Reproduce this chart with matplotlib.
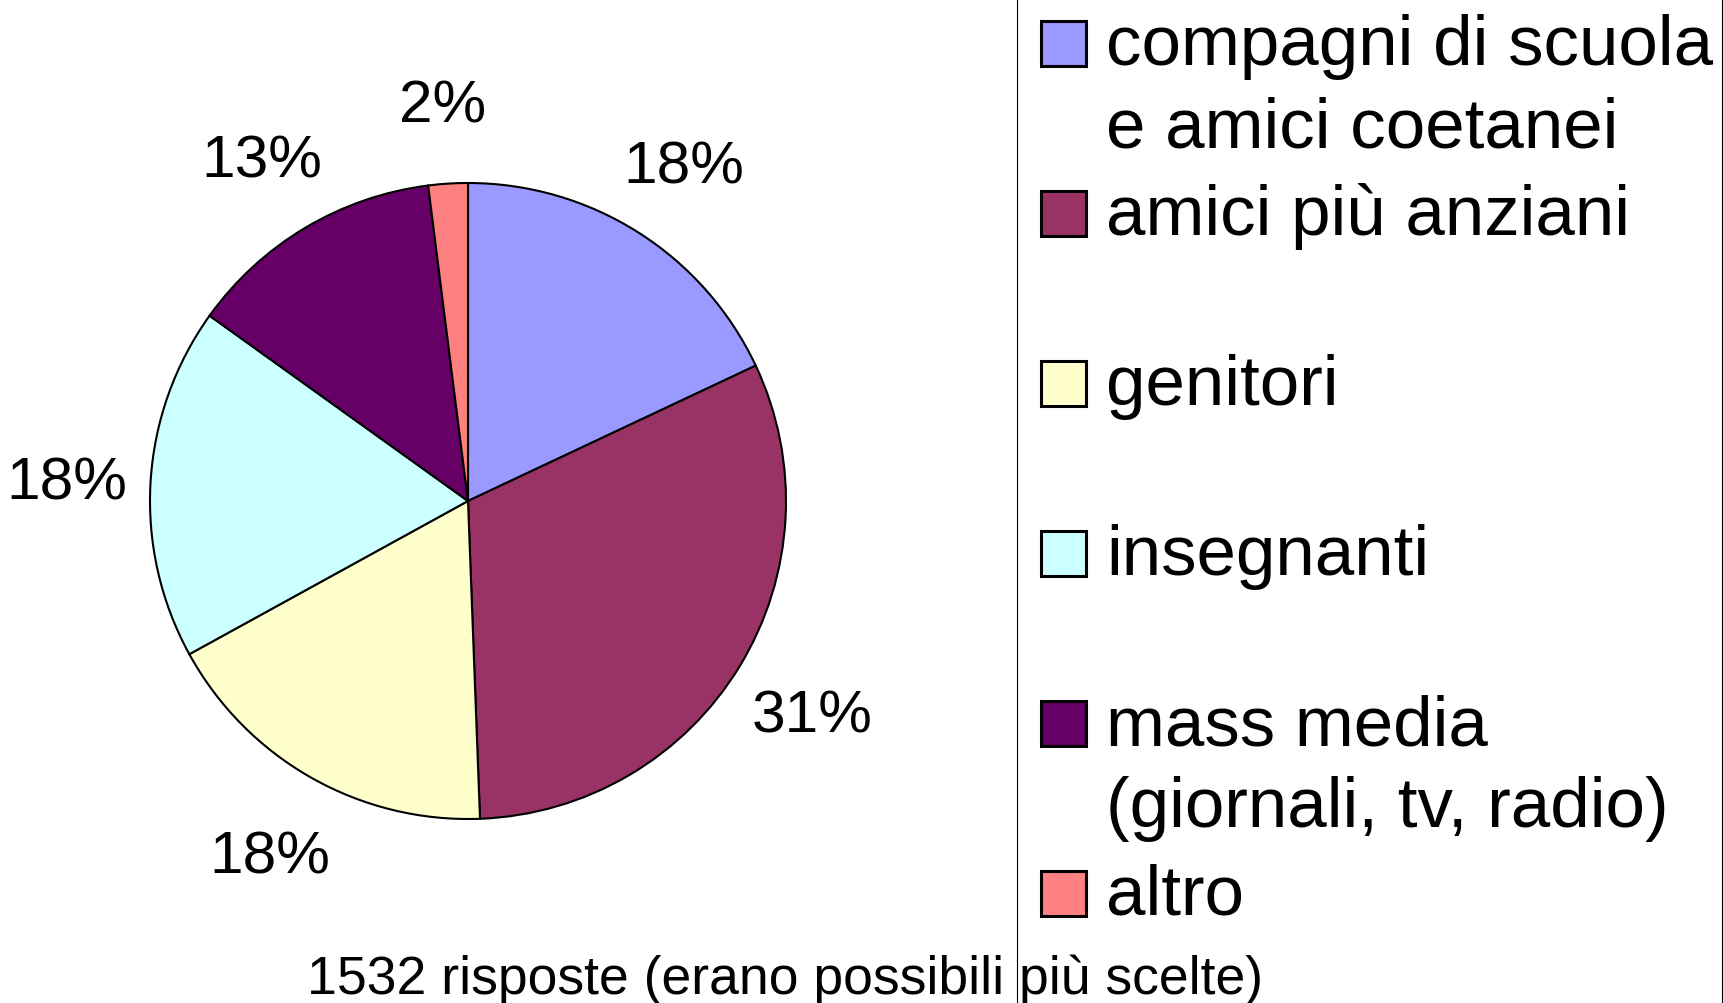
import matplotlib.pyplot as plt
from matplotlib.patches import Rectangle

plt.rcParams['font.family'] = ['Liberation Sans', 'DejaVu Sans']

# data (percent of 1532 answers)
labels = ["compagni di scuola\ne amici coetanei", "amici più anziani", "genitori",
          "insegnanti", "mass media\n(giornali, tv, radio)", "altro"]
shares = [18.0, 31.4, 17.6, 17.9, 13.1, 2.0]
colors = ["#9999FF", "#993366", "#FFFFCC", "#CCFFFF", "#660066", "#FF8080"]
caption = "1532 risposte (erano possibili più scelte)"

W, H = 1724, 1004
fig = plt.figure(figsize=(W / 100, H / 100), dpi=100)

# pie axes: centre at (468, 502) px, radius 318 px
R = 318
cx, cy = 468, 502
lim = 1.45
half = R * lim
ax = fig.add_axes([(cx - half) / W, (H - cy - half) / H, 2 * half / W, 2 * half / H])
wedges, texts, autotexts = ax.pie(shares, colors=colors, startangle=90, counterclock=False,
                                  autopct='%1.0f%%', pctdistance=1.265,
                                  wedgeprops=dict(edgecolor='black', linewidth=1.5),
                                  textprops=dict(fontsize=43.5, color='black'))
for t in autotexts:
    t.set_va('center_baseline')
ax.set_xlim(-lim, lim)
ax.set_ylim(-lim, lim)
ax.set_aspect('equal')
ax.axis('off')


def fx(x):
    return x / W


def fy(y):
    return 1 - y / H


# legend frame (runs off the top, bottom of the image)
fig.patches.append(Rectangle((fx(1017), -0.02), fx(1722 - 1017), 1.04, transform=fig.transFigure,
                             facecolor='none', edgecolor='black', linewidth=0.8, zorder=0))

# legend entries, one slot of 170 px each
first_base = 65
for i, (lab, col) in enumerate(zip(labels, colors)):
    base = first_base + 170 * i
    fig.patches.append(Rectangle((fx(1041), fy(base + 2)), fx(45), 45 / H, transform=fig.transFigure,
                                 facecolor=col, edgecolor='black', linewidth=2.2, zorder=2))
    for j, line in enumerate(lab.split("\n")):
        fig.text(fx(1106), fy(base + 82 * j), line, fontsize=51, va='baseline', ha='left')

fig.text(fx(785), fy(994), caption, fontsize=38.5, ha='center', va='baseline', zorder=5)

fig.savefig('out.png', dpi=100, facecolor='white')
